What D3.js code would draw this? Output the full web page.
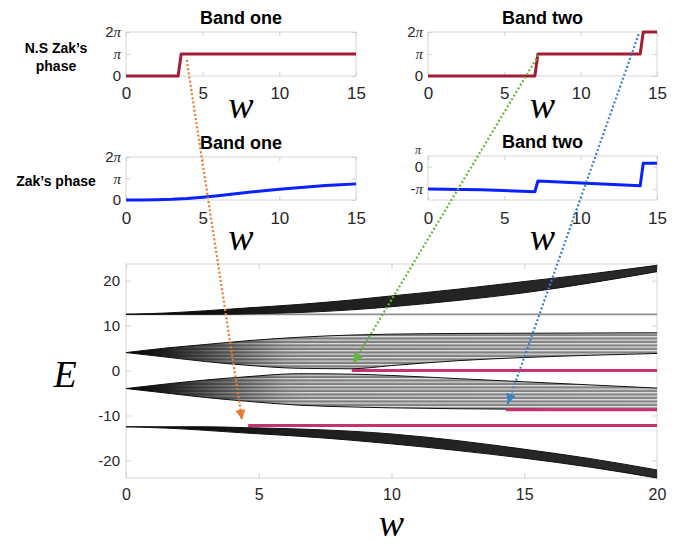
<!DOCTYPE html>
<html>
<head>
<meta charset="utf-8">
<script src="https://cdn.jsdelivr.net/npm/d3@7"></script>
<style>
  body { margin: 0; background: #fff; }
  text { font-family: "Liberation Sans", Arial, sans-serif; }
</style>
</head>
<body>
<script>
var width = 693, height = 544;
var PI = Math.PI;

// ---- phase panels (phase values in units of pi) ----
var nsOneW = [0, 3.4, 3.6, 15];
var nsOnePhase = [0, 0, 1, 1];
var nsTwoW = [0, 7.0, 7.2, 13.9, 14.1, 15];
var nsTwoPhase = [0, 0, 1, 1, 2, 2];
var zakOneW = [0, 1, 2, 3, 4, 5, 6, 7, 8, 9, 10, 11, 12, 13, 14, 15];
var zakOnePhase = [0, 0, 0.01, 0.03, 0.07, 0.13, 0.2, 0.28, 0.36, 0.43, 0.5, 0.56, 0.62, 0.67, 0.71, 0.75];
var zakTwoW = [0, 3.5, 7.0, 7.2, 13.9, 14.1, 15];
var zakTwoPhase = [-1.0, -1.03, -1.12, -0.64, -0.85, 0.16, 0.16];

var phaseXTicks = [0, 5, 10, 15];
var phaseYTicks = [0, 1, 2];
var phaseYLabels = ["0", "\u03c0", "2\u03c0"];
var zakTwoYTicks = [-1, 0];
var zakTwoYLabels = ["-\u03c0", "0"];

// ---- spectrum panel ----
var specW = [0, 1.5, 3, 4.5, 6.5, 8.5, 10, 12.5, 15, 17.5, 20];
var band1Upper = [12.5, 12.8, 13.3, 13.9, 14.7, 15.7, 16.6, 18.1, 19.8, 21.5, 23.4];
var band1Lower = [12.5, 12.5, 12.5, 12.6, 12.9, 13.5, 14.2, 15.6, 17.3, 19.5, 22.0];
var band2Upper = [4, 5.0, 5.8, 6.6, 7.4, 7.9, 8.1, 8.25, 8.3, 8.35, 8.4];
var band2Lower = [4, 3.0, 2.0, 1.2, 0.5, 0.4, 1.1, 2.2, 2.9, 3.4, 3.8];
var band3Upper = [-4, -3.0, -2.1, -1.4, -0.7, -0.8, -1.1, -1.8, -2.5, -3.2, -3.9];
var band3Lower = [-4, -5.0, -6.0, -6.8, -7.7, -8.1, -8.3, -8.5, -8.6, -8.7, -8.7];
var band4Upper = [-12.5, -12.5, -12.5, -12.7, -13.0, -13.5, -14.1, -15.6, -17.5, -19.6, -22.1];
var band4Lower = [-12.5, -12.8, -13.3, -13.9, -14.6, -15.5, -16.3, -17.8, -19.5, -21.5, -23.9];
var flatE = 12.5;
var edgeE = [0, -8.7, -12.2];
var edgeStartW = [8.5, 14.3, 4.6];
var specXTicks = [0, 5, 10, 15, 20];
var specYTicks = [-20, -10, 0, 10, 20];

// ---- arrows ----
var arrowColors = ["#ea7a30", "#62b83a", "#3a80c6"];
var arrowFromPanel = ["nsOne", "nsTwo", "nsTwo"];
var arrowFromW = [3.96, 7.24, 13.8];
var arrowFromPhase = [0.73, 0.95, 1.9];
var arrowToW = [4.37, 8.56, 14.38];
var arrowToE = [-10.95, 1.6, -7.4];

var svg = d3.select("body").append("svg")
    .attr("width", width).attr("height", height);
var defs = svg.append("defs");

function piText(sel, label) {
  sel.text(null);
  var parts = label.split("\u03c0");
  sel.append("tspan").text(parts[0]);
  if (parts.length > 1) {
    sel.append("tspan")
      .style("font-family", "'Liberation Serif', 'Times New Roman', serif")
      .style("font-style", "italic")
      .text("\u03c0");
  }
}

function intFmt(d) { return String(d); }   // plain hyphen for negatives

function panel(o) {
  var x = d3.scaleLinear().domain(o.xd).range([o.l, o.r]);
  var y = d3.scaleLinear().domain(o.yd).range([o.b, o.t]);
  var g = svg.append("g");
  var ts = o.tick || 4;

  g.append("rect")
    .attr("x", o.l).attr("y", o.t)
    .attr("width", o.r - o.l).attr("height", o.b - o.t)
    .attr("fill", "none").attr("stroke", "#d6d6d6").attr("stroke-width", 1);

  function style(ax) {
    ax.select(".domain").remove();
    ax.selectAll(".tick line").attr("stroke", "#d0d0d0");
    ax.selectAll("text").attr("fill", "#262626").style("font-family", "'Liberation Sans', Arial, sans-serif");
  }

  var bx = g.append("g").attr("transform", "translate(0," + o.b + ")")
    .call(d3.axisBottom(x).tickValues(o.xt).tickSize(-ts).tickPadding(o.xpad || 11).tickFormat(intFmt));
  style(bx);
  bx.selectAll("text").style("font-size", (o.xfs || 17) + "px");

  var tx = g.append("g").attr("transform", "translate(0," + o.t + ")")
    .call(d3.axisTop(x).tickValues(o.xt).tickSize(-ts).tickFormat(""));
  style(tx);

  var ly = g.append("g").attr("transform", "translate(" + o.l + ",0)")
    .call(d3.axisLeft(y).tickValues(o.yt).tickSize(-ts).tickPadding(o.ypad || 5)
      .tickFormat(function(d, i) { return o.yl ? o.yl[i] : intFmt(d); }));
  style(ly);
  ly.selectAll("text").style("font-size", (o.yfs || 15) + "px")
    .each(function(d, i) { if (o.yl) piText(d3.select(this), o.yl[i]); });

  var ry = g.append("g").attr("transform", "translate(" + o.r + ",0)")
    .call(d3.axisRight(y).tickValues(o.yt).tickSize(-ts).tickFormat(""));
  style(ry);

  if (o.title) {
    g.append("text").attr("x", (o.l + o.r) / 2).attr("y", o.t - 8)
      .attr("text-anchor", "middle").style("font-size", "18px").style("font-weight", "bold")
      .attr("fill", "#000").text(o.title);
  }
  if (o.xlab) {
    g.append("text").attr("x", (o.l + o.r) / 2).attr("y", o.xlabY)
      .attr("text-anchor", "middle")
      .style("font-family", "'Liberation Serif', 'Times New Roman', serif")
      .style("font-style", "italic").style("font-size", "38px")
      .attr("fill", "#000").text(o.xlab);
  }
  return {x: x, y: y, g: g};
}

function phaseLine(p, ws, vals, color) {
  var line = d3.line().x(function(d, i) { return p.x(ws[i]); })
    .y(function(d) { return p.y(d * PI); });
  p.g.append("path").datum(vals).attr("d", line)
    .attr("fill", "none").attr("stroke", color).attr("stroke-width", 3)
    .attr("stroke-linejoin", "round");
}

var red = "#a11e36", blue = "#0a22ff";

var nsOne = panel({l: 126, r: 356, t: 32, b: 76, xd: [0, 15], yd: [0, 2 * PI],
  xt: phaseXTicks, yt: phaseYTicks.map(function(d) { return d * PI; }), yl: phaseYLabels,
  title: "Band one", xlab: "w", xlabY: 118});
phaseLine(nsOne, nsOneW, nsOnePhase, red);

var nsTwo = panel({l: 428, r: 657, t: 32, b: 76, xd: [0, 15], yd: [0, 2 * PI],
  xt: phaseXTicks, yt: phaseYTicks.map(function(d) { return d * PI; }), yl: phaseYLabels,
  title: "Band two", xlab: "w", xlabY: 118});
phaseLine(nsTwo, nsTwoW, nsTwoPhase, red);

var zakOne = panel({l: 126, r: 356, t: 157, b: 200, xd: [0, 15], yd: [0, 2 * PI],
  xt: phaseXTicks, yt: phaseYTicks.map(function(d) { return d * PI; }), yl: phaseYLabels,
  title: "Band one", xlab: "w", xlabY: 250, xpad: 12});
phaseLine(zakOne, zakOneW, zakOnePhase, blue);

var zakTwo = panel({l: 428, r: 657, t: 156, b: 200, xd: [0, 15], yd: [-1.49 * PI, 0.48 * PI],
  xt: phaseXTicks, yt: zakTwoYTicks.map(function(d) { return d * PI; }), yl: zakTwoYLabels,
  title: "Band two", xlab: "w", xlabY: 250, xpad: 12, yfs: 15});
phaseLine(zakTwo, zakTwoW, zakTwoPhase, blue);
// the pi label squeezed just above the 0 label
zakTwo.g.append("text").attr("x", 428 - 7).attr("y", zakTwo.y(0) - 12.5)
  .attr("text-anchor", "end").attr("fill", "#262626")
  .style("font-family", "'Liberation Serif', serif").style("font-style", "italic")
  .style("font-size", "12px").text("\u03c0");

// row labels
svg.append("text").attr("x", 56).attr("y", 53).attr("text-anchor", "middle")
  .style("font-size", "14px").style("font-weight", "bold").text("N.S Zak\u2019s");
svg.append("text").attr("x", 56).attr("y", 71).attr("text-anchor", "middle")
  .style("font-size", "14px").style("font-weight", "bold").text("phase");
svg.append("text").attr("x", 56).attr("y", 186).attr("text-anchor", "middle")
  .style("font-size", "14px").style("font-weight", "bold").text("Zak\u2019s phase");

// ---- spectrum ----
var spec = panel({l: 126, r: 657, t: 264, b: 478, xd: [0, 20], yd: [-23.9, 23.7],
  xt: specXTicks, yt: specYTicks, tick: 5, xfs: 16, yfs: 15, ypad: 6, xpad: 11,
  xlab: "w", xlabY: 536});

spec.g.append("text").attr("x", 65).attr("y", 387).attr("text-anchor", "middle")
  .style("font-family", "'Liberation Serif', 'Times New Roman', serif")
  .style("font-style", "italic").style("font-size", "38px").text("E");

function grad(id, stops) {
  var gr = defs.append("linearGradient").attr("id", id)
    .attr("gradientUnits", "userSpaceOnUse")
    .attr("x1", spec.x(0)).attr("x2", spec.x(20)).attr("y1", 0).attr("y2", 0);
  stops.forEach(function(s) {
    gr.append("stop").attr("offset", s[0]).attr("stop-color", s[1]);
  });
}
grad("gOuter", [[0, "#000"], [0.3, "#1e1e1e"], [1, "#2a2a2a"]]);
grad("gInner", [[0, "#000"], [0.1, "#2a2a2a"], [0.3, "#7a7a7a"], [1, "#858585"]]);
grad("gMask", [[0, "#000"], [0.08, "#000"], [0.35, "#fff"], [1, "#fff"]]);

var stripes = defs.append("pattern").attr("id", "stripes")
  .attr("patternUnits", "userSpaceOnUse").attr("width", 8).attr("height", 3.5);
stripes.append("rect").attr("y", 0).attr("width", 8).attr("height", 1.3)
  .attr("fill", "#fff").attr("opacity", 0.75);
var mask = defs.append("mask").attr("id", "fanMask");
mask.append("rect").attr("x", 0).attr("y", 0).attr("width", width).attr("height", height)
  .attr("fill", "url(#gMask)");

var bands = [
  {up: band1Upper, lo: band1Lower, fill: "url(#gOuter)", stripe: false},
  {up: band2Upper, lo: band2Lower, fill: "url(#gInner)", stripe: true},
  {up: band3Upper, lo: band3Lower, fill: "url(#gInner)", stripe: true},
  {up: band4Upper, lo: band4Lower, fill: "url(#gOuter)", stripe: false}
];

var area = function(b) {
  return d3.area().curve(d3.curveMonotoneX)
    .x(function(d, i) { return spec.x(specW[i]); })
    .y0(function(d, i) { return spec.y(b.lo[i]); })
    .y1(function(d, i) { return spec.y(b.up[i]); })(specW);
};
var edge = d3.line().curve(d3.curveMonotoneX)
  .x(function(d, i) { return spec.x(specW[i]); })
  .y(function(d) { return spec.y(d); });

// flat band
spec.g.append("line")
  .attr("x1", spec.x(0)).attr("x2", spec.x(20))
  .attr("y1", spec.y(flatE)).attr("y2", spec.y(flatE))
  .attr("stroke", "#8e8e8e").attr("stroke-width", 1.6);

bands.forEach(function(b) {
  spec.g.append("path").attr("d", area(b)).attr("fill", b.fill);
  if (b.stripe) {
    spec.g.append("path").attr("d", area(b)).attr("fill", "url(#stripes)")
      .attr("mask", "url(#fanMask)");
  }
  [b.up, b.lo].forEach(function(e) {
    spec.g.append("path").datum(e).attr("d", edge)
      .attr("fill", "none").attr("stroke", "#111").attr("stroke-width", 1);
  });
});

// edge states
spec.g.selectAll(".edgeState").data(edgeE).enter().append("line")
  .attr("class", "edgeState")
  .attr("x1", function(d, i) { return spec.x(edgeStartW[i]); })
  .attr("x2", spec.x(20))
  .attr("y1", function(d) { return spec.y(d); })
  .attr("y2", function(d) { return spec.y(d); })
  .attr("stroke", "#c9306f").attr("stroke-width", 3);

// ---- arrows ----
var panels = {nsOne: nsOne, nsTwo: nsTwo};
arrowColors.forEach(function(c, i) {
  defs.append("marker").attr("id", "head" + i)
    .attr("viewBox", "0 0 10 10").attr("refX", 10).attr("refY", 5)
    .attr("markerUnits", "userSpaceOnUse").attr("markerWidth", 10).attr("markerHeight", 10)
    .attr("orient", "auto")
    .append("path").attr("d", "M0,0 L10,5 L0,10 Z").attr("fill", c);
  var p = panels[arrowFromPanel[i]];
  svg.append("line")
    .attr("x1", p.x(arrowFromW[i])).attr("y1", p.y(arrowFromPhase[i] * PI))
    .attr("x2", spec.x(arrowToW[i])).attr("y2", spec.y(arrowToE[i]))
    .attr("stroke", c).attr("stroke-width", 2.2)
    .attr("stroke-dasharray", "2,2.2")
    .attr("marker-end", "url(#head" + i + ")");
});
</script>
</body>
</html>
